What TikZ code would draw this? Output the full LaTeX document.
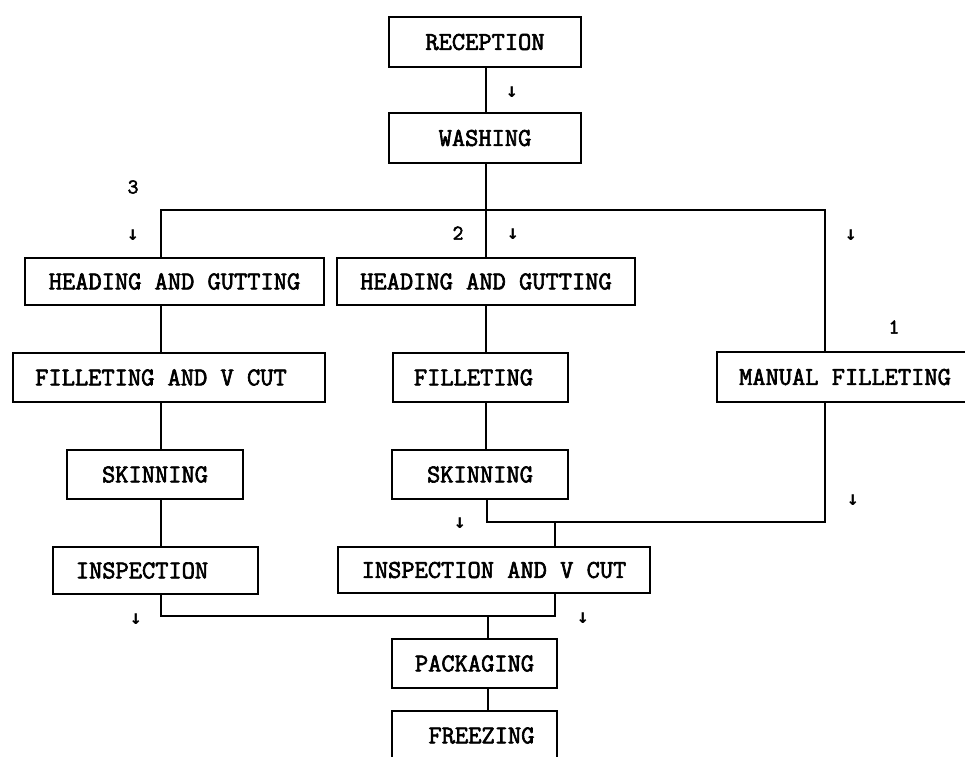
\documentclass[tikz,border=0pt]{standalone}
\usepackage{fontspec}
\newfontfamily\boxfont{Latin Modern Mono}[FakeBold=2.5]
\newfontfamily\arrfont{DejaVu Sans Mono}
\begin{document}
\begin{tikzpicture}[x=1pt,y=-1pt,
  line width=1.3pt,
  box/.style={draw, rectangle, inner sep=0pt, minimum height=49pt},
  txt/.style={font=\boxfont\fontsize{25.7}{27}\selectfont, inner sep=0pt},
  num/.style={font=\boxfont\fontsize{21}{23}\selectfont, inner sep=0pt},
  dn/.style={font=\arrfont\bfseries\fontsize{20}{22}\selectfont, inner sep=0pt}]
\useasboundingbox (0,0) rectangle (965,756);
% boxes
\node[box, minimum width=192pt, minimum height=50pt, label={[txt]center:RECEPTION}] (rec) at (485,42) {};
\node[box, minimum width=192pt, minimum height=50pt, label={[txt]center:WASHING}] (wash) at (485,138) {};
\node[box, minimum width=299pt, minimum height=47pt, label={[txt]center:HEADING AND GUTTING}] (hg1) at (174.5,281.5) {};
\node[box, minimum width=298pt, minimum height=47pt, label={[txt]center:HEADING AND GUTTING}] (hg2) at (486,281.5) {};
\node[box, minimum width=312pt, label={[txt,xshift=-8pt]center:FILLETING AND V CUT}] (fvc) at (169,377.5) {};
\node[box, minimum width=175pt, label={[txt,xshift=-7pt]center:FILLETING}] (fill) at (480.5,377.5) {};
\node[box, minimum width=273pt, minimum height=50pt, label={[txt,xshift=-8.5pt]center:MANUAL FILLETING}] (mf) at (853.5,377) {};
\node[box, minimum width=176pt, label={[txt]center:SKINNING}] (skin1) at (155,474.5) {};
\node[box, minimum width=176pt, label={[txt]center:SKINNING}] (skin2) at (480,474.5) {};
\node[box, minimum width=205pt, minimum height=47pt, label={[txt,xshift=-13.5pt]center:INSPECTION}] (insp1) at (155.5,570.5) {};
\node[box, minimum width=312pt, minimum height=46pt, label={[txt]center:INSPECTION AND V CUT}] (insp2) at (494,570) {};
\node[box, minimum width=165pt, label={[txt]center:PACKAGING}] (pack) at (474.5,663.5) {};
\node[box, minimum width=165pt, label={[txt,xshift=7pt]center:FREEZING}] (freeze) at (474.5,735.5) {};
% labels
\node[dn] (a0) at (512,92) {↓};
\node[num] (n3) at (133,187) {3};
\node[dn] (a3) at (133,235) {↓};
\node[num] (n2) at (458,233) {2};
\node[dn] (a2) at (513,234) {↓};
\node[dn] (a1) at (851,235) {↓};
\node[num] (n1) at (894,327) {1};
\node[dn] (a1b) at (853,500) {↓};
\node[dn] (a2b) at (460,523) {↓};
\node[dn] (a3b) at (136,619) {↓};
\node[dn] (a4) at (583,618) {↓};
% helper coordinates
\coordinate (tl) at (161,210);
\coordinate (tr) at (825,210);
\coordinate (mx) at (486,210);
\coordinate (jr) at (825,522);
\coordinate (jm) at (555,522);
\coordinate (bl) at (161,616);
\coordinate (bm) at (555,616);
\coordinate (px) at (488,616);
% connectors
\draw (rec.south -| mx) -- (wash.north -| mx);
\draw (wash.south -| mx) -- (hg2.north -| mx);
\draw (hg1.north -| tl) -- (tl) -- (tr) -- (mf.north -| tr);
\draw (hg1.south -| tl) -- (fvc.north -| tl);
\draw (fvc.south -| tl) -- (skin1.north -| tl);
\draw (skin1.south -| tl) -- (insp1.north -| tl);
\draw (hg2.south -| mx) -- (fill.north -| mx);
\draw (fill.south -| mx) -- (skin2.north -| mx);
\draw (skin2.south -| 487,0) -- (487,522) -- (jr) -- (mf.south -| jr);
\draw (jm) -- (insp2.north -| jm);
\draw (insp1.south -| bl) -- (bl) -- (bm) -- (insp2.south -| bm);
\draw (px) -- (pack.north -| px);
\draw (pack.south -| px) -- (freeze.north -| px);
\end{tikzpicture}
\end{document}
